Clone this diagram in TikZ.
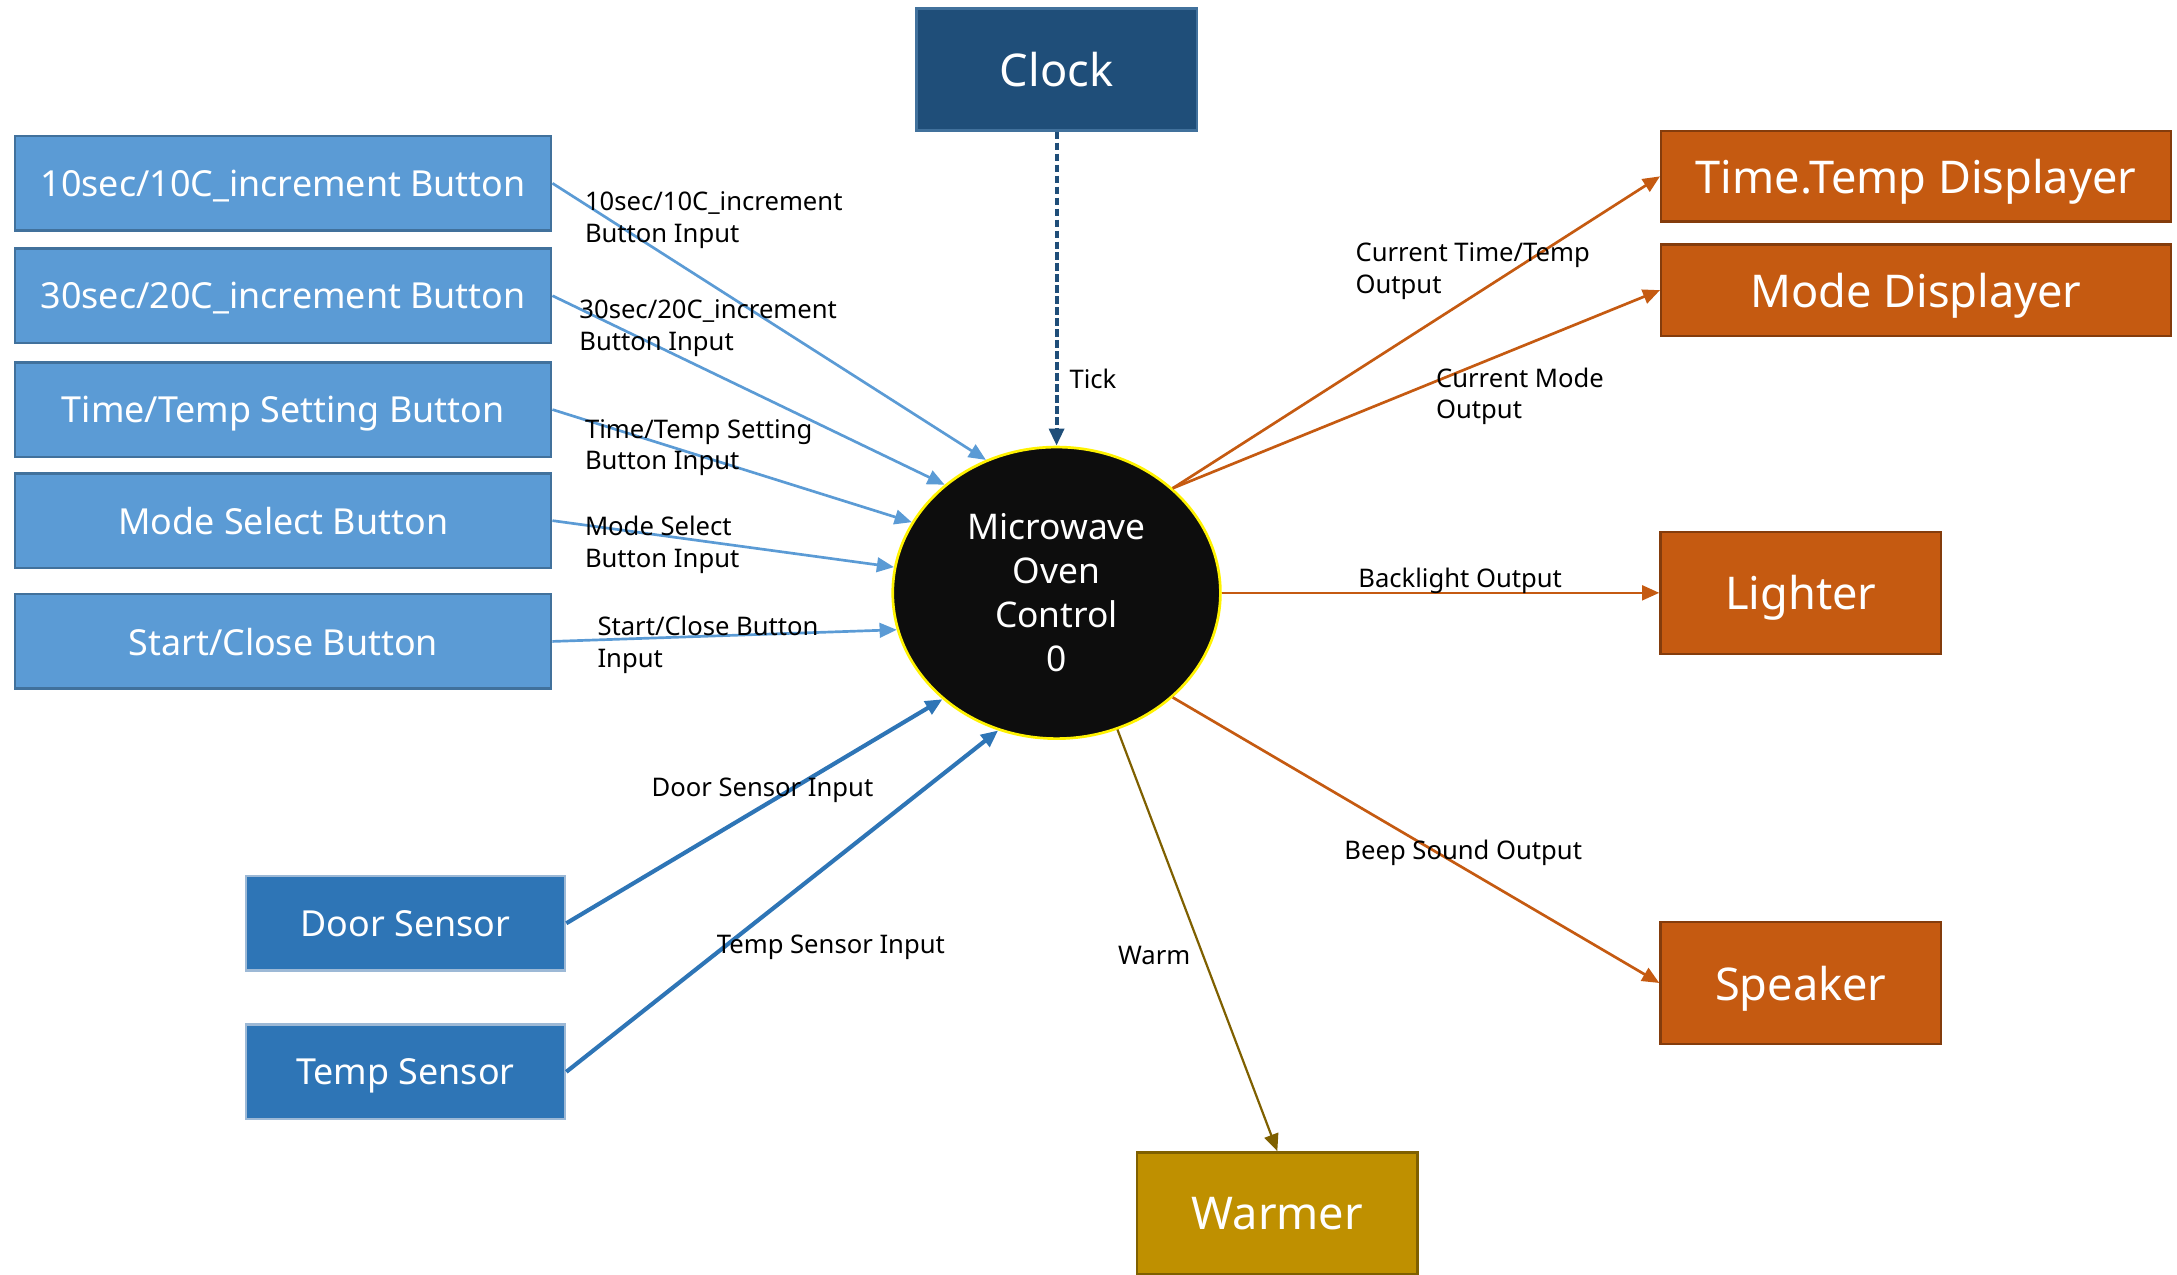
\documentclass[tikz,border=0pt]{standalone}
\usepackage{fontspec}
\setmainfont{Noto Sans}
\usepackage{tikz}
\usetikzlibrary{arrows.meta,shapes.geometric}
\definecolor{btnblue}{RGB}{91,155,213}
\definecolor{btnedge}{RGB}{65,113,156}
\definecolor{sensblue}{RGB}{46,117,182}
\definecolor{sensedge}{RGB}{157,185,214}
\definecolor{clockblue}{RGB}{31,78,121}
\definecolor{outorange}{RGB}{197,90,17}
\definecolor{outedge}{RGB}{132,60,12}
\definecolor{warmgold}{RGB}{191,144,0}
\definecolor{warmedge}{RGB}{127,96,0}
\definecolor{ctrlblack}{RGB}{13,13,13}
\tikzstyle{btn}=[rectangle,draw=btnedge,fill=btnblue,text=white,line width=1pt,minimum width=77.2mm,minimum height=13.6mm,text depth=0pt,font=\fontsize{14.7}{17}\selectfont]
\tikzstyle{sensor}=[btn,draw=sensedge,fill=sensblue,minimum width=46mm]
\tikzstyle{outbox}=[rectangle,draw=outedge,fill=outorange,text=white,line width=1pt,minimum width=40.4mm,minimum height=17.6mm,text depth=0pt,font=\fontsize{18.5}{22}\selectfont]
\tikzstyle{lbl}=[anchor=west,align=left,inner sep=0pt,yshift=-0.4mm,font=\fontsize{10.5}{13}\selectfont]
\tikzstyle{flow}=[-{Triangle[length=7pt,width=6pt]},line width=1.1pt]

\begin{document}
\begin{tikzpicture}[x=0.2mm,y=-0.2mm]
    \useasboundingbox (0,0) rectangle (1568,918);
    % inputs
    \node[btn] (b10) at (204,132) {10sec/10C\_increment Button};
    \node[btn] (b30) at (204,213) {30sec/20C\_increment Button};
    \node[btn] (bset) at (204,295) {Time/Temp Setting Button};
    \node[btn] (bmode) at (204,375) {Mode Select Button};
    \node[btn] (bstart) at (204,462) {Start/Close Button};
    \node[sensor] (door) at (292,665) {Door Sensor};
    \node[sensor] (temp) at (292,772) {Temp Sensor};
    \node[outbox,draw=btnedge,fill=clockblue] (clock) at (761,50) {Clock};
    % process
    \node[ellipse,draw=yellow,fill=ctrlblack,line width=1.1pt,text=white,inner sep=0pt,minimum width=47.2mm,minimum height=42mm,align=center,font=\fontsize{14.5}{18}\selectfont] (ctrl) at (761,427) {Microwave\\Oven\\Control\\0};
    % outputs
    \node[outbox,minimum width=73.4mm,minimum height=13mm] (ttd) at (1380,127) {Time.Temp Displayer};
    \node[outbox,minimum width=73.4mm,minimum height=13.2mm] (mdd) at (1380,209) {Mode Displayer};
    \node[outbox] (light) at (1297,427) {Lighter};
    \node[outbox] (spk) at (1297,708) {Speaker};
    \node[outbox,draw=warmedge,fill=warmgold] (warm) at (920,874) {Warmer};
    % flows
    \draw[flow,btnblue] (b10.east) -- (ctrl.118);
    \draw[flow,btnblue] (b30.east) -- (ctrl.136);
    \draw[flow,btnblue] (bset.east) -- (ctrl.154);
    \draw[flow,btnblue] (bmode.east) -- (ctrl.171);
    \draw[flow,btnblue] (bstart.east) -- (ctrl.193);
    \draw[flow,sensblue,line width=1.7pt] (door.east) -- (ctrl.223);
    \draw[flow,sensblue,line width=1.7pt] (temp.east) -- (ctrl.247);
    \draw[flow,clockblue,line width=1.7pt,dash pattern=on 3pt off 1.5pt] (clock.south) -- (ctrl.north);
    \draw[flow,outorange] (ctrl.42) -- (ttd.west);
    \draw[flow,outorange] (ctrl.42) -- (mdd.west);
    \draw[flow,outorange] (ctrl.east) -- (light.west);
    \draw[flow,outorange] (ctrl.318) -- (spk.west);
    \draw[flow,warmedge,line width=0.9pt] (ctrl.294) -- (warm.north);
    % labels
    \node[lbl] (l10) at (421,156.5) {10sec/10C\_increment\\Button Input};
    \node[lbl] (l30) at (417,234.5) {30sec/20C\_increment\\Button Input};
    \node[lbl] (lset) at (421,320.5) {Time/Temp Setting\\Button Input};
    \node[lbl] (lmode) at (421,390.5) {Mode Select\\Button Input};
    \node[lbl] (lstart) at (430,462.5) {Start/Close Button\\Input};
    \node[lbl] (ldoor) at (469,567) {Door Sensor Input};
    \node[lbl] (ltemp) at (516,680) {Temp Sensor Input};
    \node[lbl] (ltick) at (770,271) {Tick};
    \node[lbl] (lttd) at (976,193.5) {Current Time/Temp\\Output};
    \node[lbl] (lmdd) at (1034,283.5) {Current Mode\\Output};
    \node[lbl] (llight) at (978,416) {Backlight Output};
    \node[lbl] (lspk) at (968,612) {Beep Sound Output};
    \node[lbl] (lwarm) at (805,686) {Warm};
\end{tikzpicture}
\end{document}
